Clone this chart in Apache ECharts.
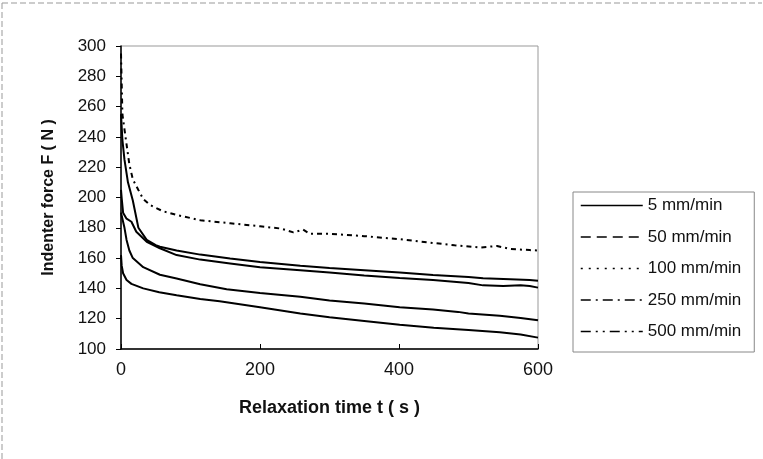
<!DOCTYPE html>
<html>
<head>
<meta charset="utf-8">
<script src="https://cdn.jsdelivr.net/npm/echarts@6/dist/echarts.min.js"></script>
<style>
  html, body { margin: 0; padding: 0; background: #fff; }
  #chart { width: 763px; height: 459px; }
</style>
</head>
<body>
<div id="chart"></div>
<script>
// === Data (t in s, F in N)
const names = ['5 mm/min', '50 mm/min', '100 mm/min', '250 mm/min', '500 mm/min'];

const t5 = [0, 1, 3, 8, 15, 32, 55, 80, 114, 142, 200, 258, 300, 350, 401, 450, 500, 545, 575, 600];
const f5 = [162, 155, 150, 145.5, 143, 140, 137.5, 135.5, 133, 131.5, 127.5, 123.5, 121, 118.5, 116, 114, 112.5, 111, 109.5, 107.5];

const t50 = [0, 2, 5, 8, 12, 17, 32, 56, 80, 114, 152, 200, 258, 300, 350, 401, 449, 485, 500, 545, 575, 600];
const f50 = [190, 186, 180, 172, 165, 160, 154, 149, 146.5, 142.8, 139.5, 137, 134.5, 132, 130, 127.5, 126, 124.5, 123.5, 122, 120.5, 119];

const t100 = [0, 1, 3, 8, 15, 22, 37, 56, 80, 114, 157, 200, 258, 300, 350, 401, 449, 500, 521, 550, 575, 588, 600];
const f100 = [205, 199.5, 190, 186, 184, 177.4, 170.8, 166.5, 162, 159, 156.5, 154, 152, 150.5, 148.5, 146.8, 145.5, 143.5, 142, 141.6, 142, 141.6, 140.5];

const t250 = [0, 2, 5, 10, 17, 25, 37, 50, 56, 80, 114, 157, 200, 258, 300, 350, 401, 449, 500, 521, 560, 588, 600];
const f250 = [255, 238, 225, 210, 198, 180, 172, 168.5, 167.5, 165, 162.3, 159.8, 157.5, 155, 153.5, 152, 150.5, 148.8, 147.5, 146.7, 146, 145.5, 145];

const t500 = [0, 1, 2, 5, 8, 12, 17, 25, 32, 42, 60, 80, 114, 157, 200, 230, 248, 262, 272, 300, 350, 401, 449, 480, 517, 541, 560, 588, 600];
const f500 = [295, 275, 255, 245, 235, 222, 212, 205, 199, 195, 191, 188.5, 185, 183, 181, 179.5, 177, 178.8, 176, 176, 174.5, 172.5, 170, 168.5, 167, 168, 166, 165.3, 165];

const xTicks = { min: 0, max: 600, step: 200 };
const yTicks = { min: 100, max: 300, step: 20 };

// === Helpers
function pairs(ts, fs) {
    return ts.map((t, i) => [t, fs[i]]);
}

const lineTypes = ['solid', [10, 6], [2, 6], [10, 5, 2, 5], [10, 5, 2, 5, 2, 5]];
const seriesData = [pairs(t5, f5), pairs(t50, f50), pairs(t100, f100), pairs(t250, f250), pairs(t500, f500)];
// dense curves in the original read as solid, only the top one shows its pattern
const plotTypes = ['solid', 'solid', 'solid', 'solid', [5, 4, 2, 4]];

const chart = echarts.init(document.getElementById('chart'));

const option = {
    backgroundColor: '#fff',
    animation: false,
    textStyle: { fontFamily: 'Liberation Sans, Arial, sans-serif', color: '#111' },
    graphic: [
        { type: 'line', shape: { x1: 2, y1: 3, x2: 762, y2: 3 }, style: { stroke: '#999', lineDash: [6, 3] } },
        { type: 'line', shape: { x1: 2, y1: 3, x2: 2, y2: 459 }, style: { stroke: '#999', lineDash: [6, 3] } }
    ],
    grid: {
        left: 121, top: 46, right: 225, bottom: 110,
        show: true, borderColor: '#999', borderWidth: 1
    },
    xAxis: {
        type: 'value',
        min: xTicks.min, max: xTicks.max, interval: xTicks.step,
        name: 'Relaxation time t ( s )',
        nameLocation: 'middle',
        nameGap: 50,
        nameTextStyle: { fontSize: 18, fontWeight: 'bold', color: '#111' },
        axisLine: { lineStyle: { color: '#000', width: 1.5 } },
        axisTick: { inside: true, length: 5, lineStyle: { color: '#000' } },
        axisLabel: { fontSize: 18, color: '#111', margin: 12 },
        splitLine: { show: false }
    },
    yAxis: {
        type: 'value',
        min: yTicks.min, max: yTicks.max, interval: yTicks.step,
        name: 'Indenter force F ( N )',
        nameLocation: 'middle',
        nameGap: 64,
        nameTextStyle: { fontSize: 16, fontWeight: 'bold', color: '#111' },
        axisLine: { show: true, lineStyle: { color: '#000', width: 1.5 } },
        axisTick: { show: true, length: 5, lineStyle: { color: '#000' } },
        axisLabel: { fontSize: 17, color: '#111', margin: 15 },
        splitLine: { show: false }
    },
    legend: {
        orient: 'vertical',
        left: 573, top: 192,
        padding: [5, 13, 12, 7],
        itemWidth: 62, itemHeight: 14, itemGap: 14.5,
        borderColor: '#888', borderWidth: 1,
        textStyle: { fontSize: 17, color: '#111' },
        data: names.map((n, i) => ({
            name: n,
            itemStyle: { opacity: 0 },
            lineStyle: { type: lineTypes[i], color: '#000', width: 1.5 }
        }))
    },
    series: names.map((n, i) => ({
        name: n,
        type: 'line',
        data: seriesData[i],
        showSymbol: false,
        symbol: 'none',
        lineStyle: { color: '#000', width: 2, type: plotTypes[i] },
        itemStyle: { color: '#000' }
    }))
};

chart.setOption(option);
</script>
</body>
</html>
